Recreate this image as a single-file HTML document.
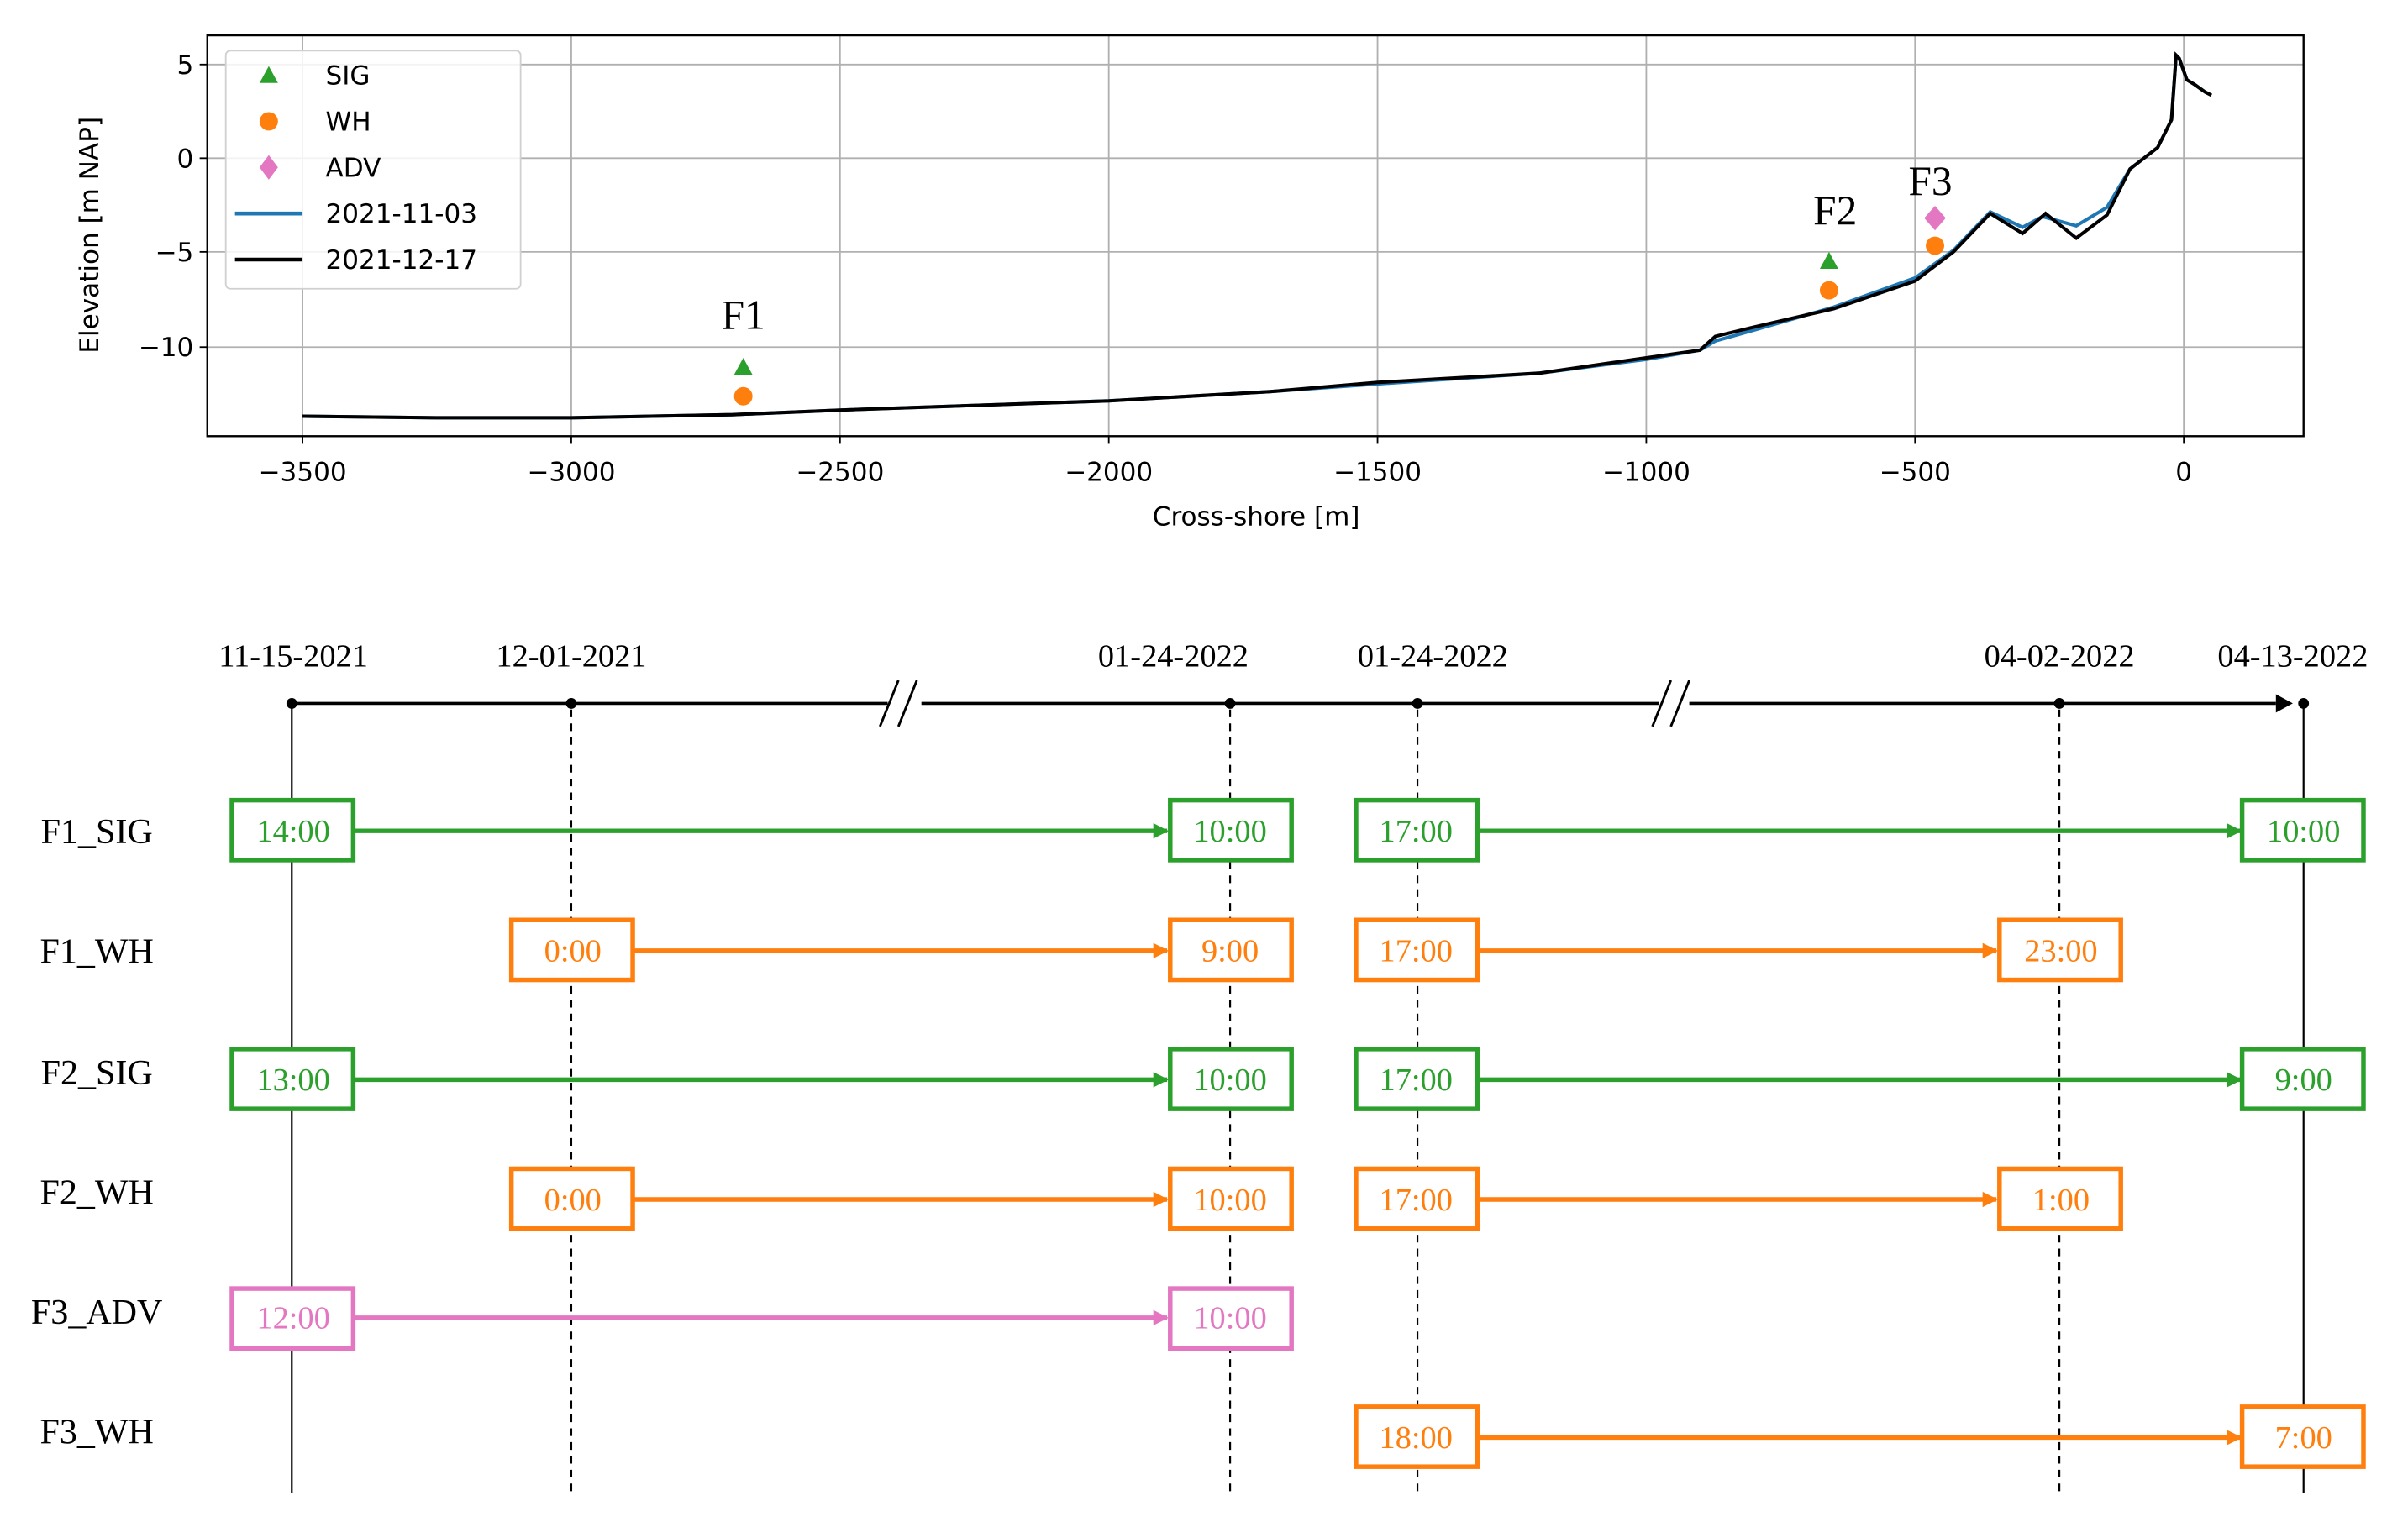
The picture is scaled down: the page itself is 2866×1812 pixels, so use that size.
<!DOCTYPE html>
<html><head><meta charset="utf-8"><style>
html,body{margin:0;padding:0;background:#fff;}
svg{display:block;}
.s{font-family:"DejaVu Sans","Liberation Sans",sans-serif;}
.t{font-family:"Liberation Serif",serif;}
</style></head><body>
<svg width="2866" height="1812" viewBox="0 0 1568 991" preserveAspectRatio="none" xmlns="http://www.w3.org/2000/svg">
<rect width="1568" height="991" fill="#fff"/>
<!-- grid -->
<g stroke="#b0b0b0" stroke-width="1">
<line x1="197" y1="23" x2="197" y2="284"/><line x1="372" y1="23" x2="372" y2="284"/><line x1="547" y1="23" x2="547" y2="284"/><line x1="722" y1="23" x2="722" y2="284"/><line x1="897" y1="23" x2="897" y2="284"/><line x1="1072" y1="23" x2="1072" y2="284"/><line x1="1247" y1="23" x2="1247" y2="284"/><line x1="1422" y1="23" x2="1422" y2="284"/>
<line x1="135" y1="42" x2="1500" y2="42"/><line x1="135" y1="103" x2="1500" y2="103"/><line x1="135" y1="164" x2="1500" y2="164"/><line x1="135" y1="226" x2="1500" y2="226"/>
</g>
<!-- profiles -->
<polyline fill="none" stroke="#1f77b4" stroke-width="2.2" points="197,271 284,272 372,272 477,270 547,267 722,261 827,255 897,250 1002,243 1072,234 1107,228 1117,222 1142,215 1194,200 1247,181 1272,163 1296,138 1317,148 1330,141 1352,147 1372,135 1387,110 1405,96 1414,78 1417,36 1419,38 1424,52 1429,55 1436,60 1440,62"/>
<polyline fill="none" stroke="#000" stroke-width="2.2" points="197,271 284,272 372,272 477,270 547,267 722,261 827,255 897,249 1002,243 1072,233 1107,228 1117,219 1142,213 1194,201 1247,183 1272,164 1296,139 1317,152 1332,139 1352,155 1372,140 1387,110 1405,96 1414,78 1417,36 1419,38 1424,52 1429,55 1436,60 1440,62"/>
<!-- markers -->
<polygon points="484,233 478,244 490,244" fill="#2ca02c"/>
<circle cx="484" cy="258" r="6" fill="#ff7f0e"/>
<polygon points="1191,164 1185,175 1197,175" fill="#2ca02c"/>
<circle cx="1191" cy="189" r="6" fill="#ff7f0e"/>
<polygon points="1260,134 1267,142 1260,150 1253,142" fill="#e377c2"/>
<circle cx="1260" cy="160" r="6" fill="#ff7f0e"/>
<g class="t" font-size="27" text-anchor="middle" fill="#000">
<text x="484" y="214">F1</text><text x="1195" y="146">F2</text><text x="1257" y="127">F3</text>
</g>
<!-- axes box -->
<rect x="135" y="23" width="1365" height="261" fill="none" stroke="#000" stroke-width="1.3"/>
<g stroke="#000" stroke-width="1">
<line x1="197" y1="284" x2="197" y2="289"/><line x1="372" y1="284" x2="372" y2="289"/><line x1="547" y1="284" x2="547" y2="289"/><line x1="722" y1="284" x2="722" y2="289"/><line x1="897" y1="284" x2="897" y2="289"/><line x1="1072" y1="284" x2="1072" y2="289"/><line x1="1247" y1="284" x2="1247" y2="289"/><line x1="1422" y1="284" x2="1422" y2="289"/>
<line x1="130" y1="42" x2="135" y2="42"/><line x1="130" y1="103" x2="135" y2="103"/><line x1="130" y1="164" x2="135" y2="164"/><line x1="130" y1="226" x2="135" y2="226"/>
</g>
<g class="s" font-size="17" fill="#000" text-anchor="middle">
<text x="197" y="313">−3500</text><text x="372" y="313">−3000</text><text x="547" y="313">−2500</text><text x="722" y="313">−2000</text><text x="897" y="313">−1500</text><text x="1072" y="313">−1000</text><text x="1247" y="313">−500</text><text x="1422" y="313">0</text>
<text x="818" y="342">Cross-shore [m]</text>
</g>
<g class="s" font-size="17" fill="#000" text-anchor="end">
<text x="126" y="48">5</text><text x="126" y="109">0</text><text x="126" y="170">−5</text><text x="126" y="232">−10</text>
</g>
<text class="s" font-size="17" text-anchor="middle" transform="translate(64,153) rotate(-90)">Elevation [m NAP]</text>
<!-- legend -->
<rect x="147" y="33" width="192" height="155" rx="3" fill="#fff" fill-opacity="0.85" stroke="#d0d0d0" stroke-width="1"/>
<polygon points="175,43 169,54 181,54" fill="#2ca02c"/>
<circle cx="175" cy="79" r="6" fill="#ff7f0e"/>
<polygon points="175,101 181,109 175,117 169,109" fill="#e377c2"/>
<line x1="153" y1="139" x2="197" y2="139" stroke="#1f77b4" stroke-width="2.5"/>
<line x1="153" y1="169" x2="197" y2="169" stroke="#000" stroke-width="2.5"/>
<g class="s" font-size="17" fill="#000">
<text x="212" y="55">SIG</text><text x="212" y="85">WH</text><text x="212" y="115">ADV</text><text x="212" y="145">2021-11-03</text><text x="212" y="175">2021-12-17</text>
</g>
<!-- timeline -->
<g class="t" font-size="21" fill="#000" text-anchor="middle">
<text x="191" y="434">11-15-2021</text><text x="372" y="434">12-01-2021</text><text x="764" y="434">01-24-2022</text><text x="933" y="434">01-24-2022</text><text x="1341" y="434">04-02-2022</text><text x="1493" y="434">04-13-2022</text>
</g>
<line x1="190" y1="458" x2="578" y2="458" stroke="#000" stroke-width="2"/>
<line x1="600" y1="458" x2="1080" y2="458" stroke="#000" stroke-width="2"/>
<line x1="1100" y1="458" x2="1482" y2="458" stroke="#000" stroke-width="2"/>
<polygon points="1482,452 1493,458 1482,464" fill="#000"/>
<g stroke="#000" stroke-width="1.6">
<line x1="573" y1="473" x2="585" y2="443"/><line x1="585" y1="473" x2="597" y2="443"/>
<line x1="1076" y1="473" x2="1088" y2="443"/><line x1="1088" y1="473" x2="1100" y2="443"/>
</g>
<g fill="#000"><circle cx="190" cy="458" r="3.5"/><circle cx="372" cy="458" r="3.5"/><circle cx="801" cy="458" r="3.5"/><circle cx="923" cy="458" r="3.5"/><circle cx="1341" cy="458" r="3.5"/><circle cx="1500" cy="458" r="3.5"/></g>
<line x1="190" y1="458" x2="190" y2="972" stroke="#000" stroke-width="1.2"/>
<line x1="1500" y1="458" x2="1500" y2="972" stroke="#000" stroke-width="1.2"/>
<g stroke="#000" stroke-width="1.2" stroke-dasharray="5,4">
<line x1="372" y1="462" x2="372" y2="972"/><line x1="801" y1="462" x2="801" y2="972"/><line x1="923" y1="462" x2="923" y2="972"/><line x1="1341" y1="462" x2="1341" y2="972"/>
</g>
<g class="t" font-size="23" fill="#000" text-anchor="middle">
<text x="63" y="549">F1_SIG</text><text x="63" y="627">F1_WH</text><text x="63" y="706">F2_SIG</text><text x="63" y="784">F2_WH</text><text x="63" y="862">F3_ADV</text><text x="63" y="940">F3_WH</text>
</g>
<defs>
<marker id="ag" markerWidth="10" markerHeight="10" refX="9" refY="5" orient="auto" markerUnits="userSpaceOnUse"><polygon points="0,0 10,5 0,10" fill="#2ca02c"/></marker>
<marker id="ao" markerWidth="10" markerHeight="10" refX="9" refY="5" orient="auto" markerUnits="userSpaceOnUse"><polygon points="0,0 10,5 0,10" fill="#ff7f0e"/></marker>
<marker id="ap" markerWidth="10" markerHeight="10" refX="9" refY="5" orient="auto" markerUnits="userSpaceOnUse"><polygon points="0,0 10,5 0,10" fill="#e377c2"/></marker>
</defs>
<!-- arrows -->
<g stroke-width="3">
<line x1="231" y1="541" x2="760" y2="541" stroke="#2ca02c" marker-end="url(#ag)"/>
<line x1="963" y1="541" x2="1459" y2="541" stroke="#2ca02c" marker-end="url(#ag)"/>
<line x1="413" y1="619" x2="760" y2="619" stroke="#ff7f0e" marker-end="url(#ao)"/>
<line x1="963" y1="619" x2="1300" y2="619" stroke="#ff7f0e" marker-end="url(#ao)"/>
<line x1="231" y1="703" x2="760" y2="703" stroke="#2ca02c" marker-end="url(#ag)"/>
<line x1="963" y1="703" x2="1459" y2="703" stroke="#2ca02c" marker-end="url(#ag)"/>
<line x1="413" y1="781" x2="760" y2="781" stroke="#ff7f0e" marker-end="url(#ao)"/>
<line x1="963" y1="781" x2="1300" y2="781" stroke="#ff7f0e" marker-end="url(#ao)"/>
<line x1="231" y1="858" x2="760" y2="858" stroke="#e377c2" marker-end="url(#ap)"/>
<line x1="963" y1="936" x2="1459" y2="936" stroke="#ff7f0e" marker-end="url(#ao)"/>
</g>
<!-- boxes -->
<g stroke-width="3" fill="#fff">
<rect x="151" y="521" width="79" height="39" stroke="#2ca02c"/><rect x="762" y="521" width="79" height="39" stroke="#2ca02c"/><rect x="883" y="521" width="79" height="39" stroke="#2ca02c"/><rect x="1460" y="521" width="79" height="39" stroke="#2ca02c"/>
<rect x="333" y="599" width="79" height="39" stroke="#ff7f0e"/><rect x="762" y="599" width="79" height="39" stroke="#ff7f0e"/><rect x="883" y="599" width="79" height="39" stroke="#ff7f0e"/><rect x="1302" y="599" width="79" height="39" stroke="#ff7f0e"/>
<rect x="151" y="683" width="79" height="39" stroke="#2ca02c"/><rect x="762" y="683" width="79" height="39" stroke="#2ca02c"/><rect x="883" y="683" width="79" height="39" stroke="#2ca02c"/><rect x="1460" y="683" width="79" height="39" stroke="#2ca02c"/>
<rect x="333" y="761" width="79" height="39" stroke="#ff7f0e"/><rect x="762" y="761" width="79" height="39" stroke="#ff7f0e"/><rect x="883" y="761" width="79" height="39" stroke="#ff7f0e"/><rect x="1302" y="761" width="79" height="39" stroke="#ff7f0e"/>
<rect x="151" y="839" width="79" height="39" stroke="#e377c2"/><rect x="762" y="839" width="79" height="39" stroke="#e377c2"/>
<rect x="883" y="916" width="79" height="39" stroke="#ff7f0e"/><rect x="1460" y="916" width="79" height="39" stroke="#ff7f0e"/>
</g>
<g class="t" font-size="21" text-anchor="middle">
<g fill="#2ca02c"><text x="191" y="548">14:00</text><text x="801" y="548">10:00</text><text x="922" y="548">17:00</text><text x="1500" y="548">10:00</text>
<text x="191" y="710">13:00</text><text x="801" y="710">10:00</text><text x="922" y="710">17:00</text><text x="1500" y="710">9:00</text></g>
<g fill="#ff7f0e"><text x="373" y="626">0:00</text><text x="801" y="626">9:00</text><text x="922" y="626">17:00</text><text x="1342" y="626">23:00</text>
<text x="373" y="788">0:00</text><text x="801" y="788">10:00</text><text x="922" y="788">17:00</text><text x="1342" y="788">1:00</text>
<text x="922" y="943">18:00</text><text x="1500" y="943">7:00</text></g>
<g fill="#e377c2"><text x="191" y="865">12:00</text><text x="801" y="865">10:00</text></g>
</g>
</svg>
</body></html>
